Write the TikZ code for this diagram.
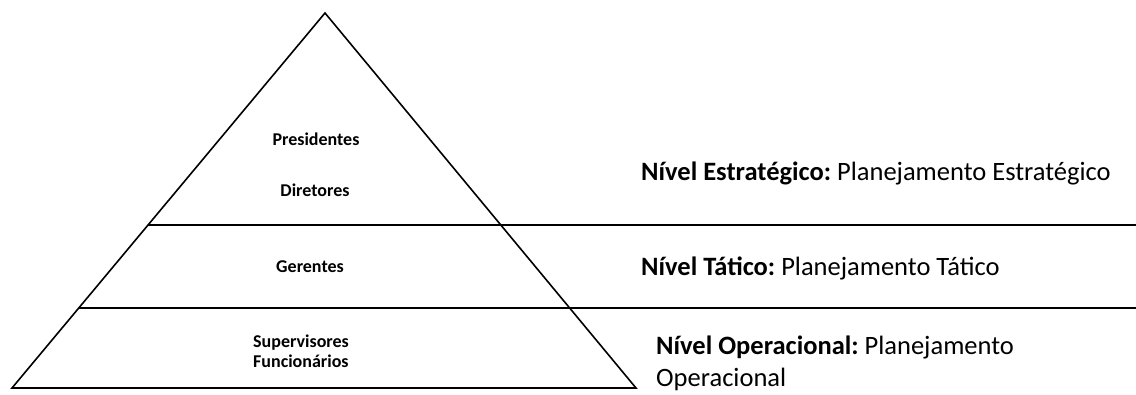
\documentclass[tikz,border=0pt]{standalone}
\usepackage{fontspec}
\setmainfont{Carlito}
\usetikzlibrary{calc}
\begin{document}
\begin{tikzpicture}[x=1pt,y=1pt,
  edge/.style={line width=1.6pt,black},
  inner/.style={font=\fontsize{18}{21}\selectfont\bfseries,inner sep=0pt},
  level/.style={font=\fontsize{26.5}{31}\selectfont,inner sep=0pt,anchor=base west}]
\useasboundingbox (0,0) rectangle (1136,394);
\coordinate (A) at (325,381);
\coordinate (BL) at (12,6);
\coordinate (BR) at (636,6);
\coordinate (U1) at ($(BL)!0.4347!(A)$);
\coordinate (U2) at (1136,169);
\coordinate (L1) at ($(BL)!0.2133!(A)$);
\coordinate (L2) at (1136,86);
\draw[edge,line join=miter] (BL) -- (A) -- (BR) -- cycle;
\draw[edge] (U1) -- (U2);
\draw[edge] (L1) -- (L2);
% pyramid labels
\node[inner,anchor=base] (pres) at (316,248) {Presidentes};
\node[inner,anchor=base] (dir) at (315,197.5) {Diretores};
\node[inner,anchor=base] (ger) at (310,121) {Gerentes};
\node[inner,anchor=base west] (sup) at (253,46) {Supervisores};
\node[inner,anchor=base west] (fun) at (253,27) {Funcionários};
% level labels
\node[level] (est) at (641,213) {\textbf{Nível Estratégico:}\ Planejamento Estratégico};
\node[level] (tat) at (641,118) {\textbf{Nível Tático:}\ Planejamento Tático};
\node[level] (op1) at (656,39) {\textbf{Nível Operacional:}\ Planejamento};
\node[level] (op2) at (656,8) {Operacional};
\end{tikzpicture}
\end{document}
